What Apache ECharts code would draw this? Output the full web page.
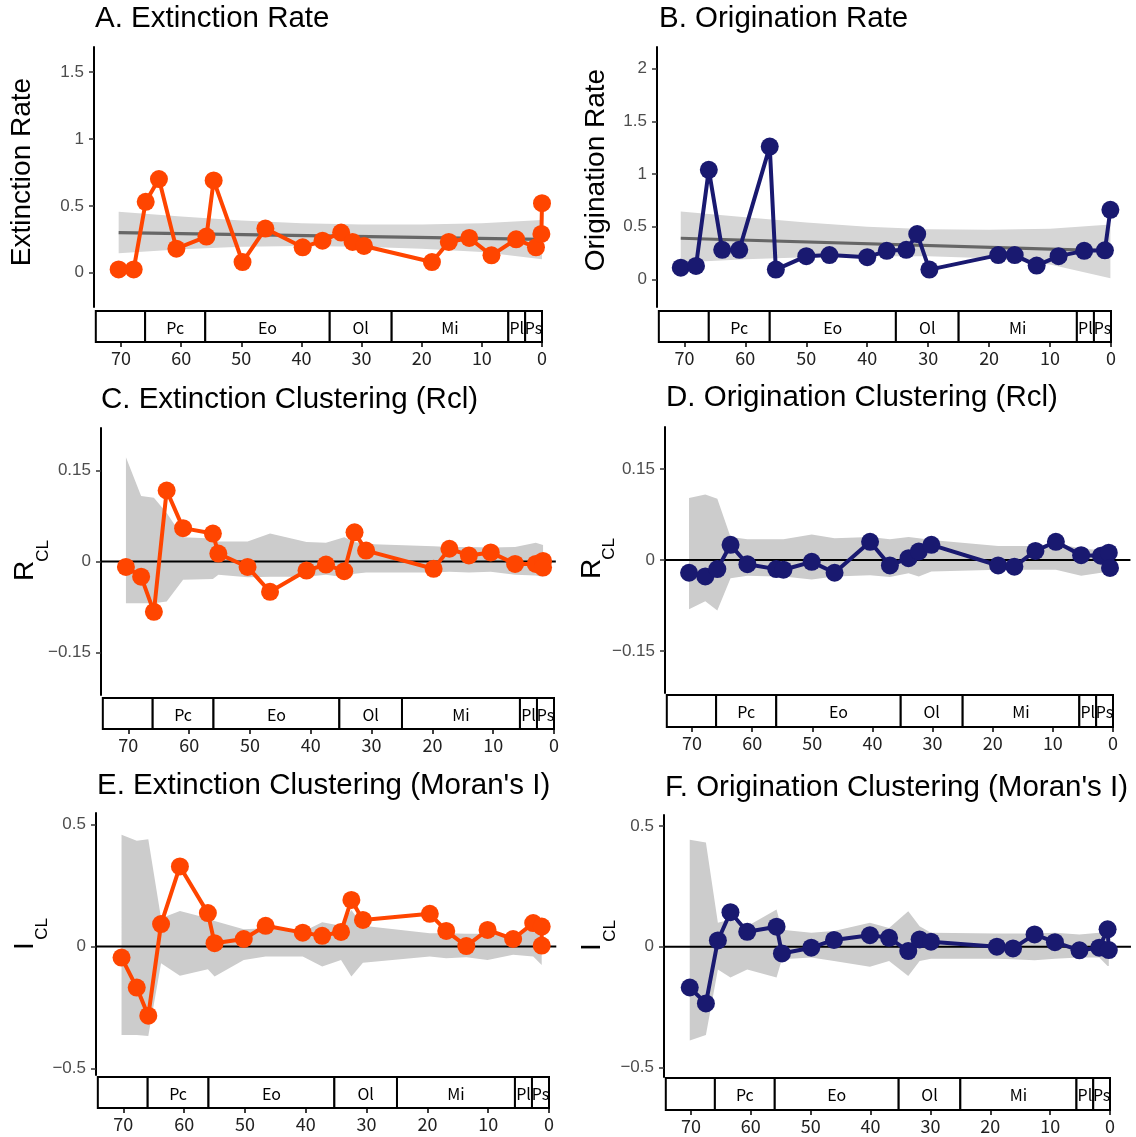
<!DOCTYPE html>
<html>
<head>
<meta charset="utf-8">
<script src="https://cdn.jsdelivr.net/npm/echarts@6/dist/echarts.min.js"></script>
<style>
  html, body { margin: 0; padding: 0; background: #ffffff; }
  #chart { width: 1136px; height: 1137px; }
</style>
</head>
<body>
<div id="chart"></div>
<script>
// ---- Geological timescale (Ma) ----
const epochBounds = [74.2, 66, 56, 35.3, 25, 5.6, 2.8, 0];
const epochNames = ['', 'Pc', 'Eo', 'Ol', 'Mi', 'Pl', 'Ps'];
const ageTicks = [70, 60, 50, 40, 30, 20, 10, 0];

// ---- Axis tick values ----
const extRateTicks = [0, 0.5, 1, 1.5];
const origRateTicks = [0, 0.5, 1, 1.5, 2];
const rclTicks = [-0.15, 0, 0.15];
const moranTicks = [-0.5, 0, 0.5];

// ---- A. Extinction rate ----
const ageExtRate = [70.4, 67.9, 65.9, 63.7, 60.8, 55.8, 54.6, 49.8, 46.0, 39.8, 36.5, 33.4, 31.5, 29.6, 18.3, 15.5, 12.1, 8.4, 4.3, 1.0, 0.1, 0.0];
const extRate = [0.025, 0.025, 0.53, 0.70, 0.18, 0.27, 0.69, 0.08, 0.33, 0.19, 0.24, 0.30, 0.23, 0.20, 0.08, 0.23, 0.26, 0.13, 0.25, 0.19, 0.29, 0.52];
const extTrendAge = [70.4, 0.0];
const extTrend = [0.30, 0.25];
const extBandAge = [70.4, 60, 50, 40, 30, 20, 10, 0];
const extBandHi = [0.455, 0.42, 0.39, 0.37, 0.36, 0.36, 0.37, 0.395];
const extBandLo = [0.145, 0.175, 0.195, 0.20, 0.195, 0.18, 0.155, 0.10];

// ---- B. Origination rate ----
const ageOrigRate = [70.6, 68.1, 66.0, 63.8, 61.0, 56.0, 55.0, 50.0, 46.2, 40.0, 36.8, 33.6, 31.8, 29.8, 18.5, 15.8, 12.2, 8.6, 4.4, 1.0, 0.1];
const origRate = [0.11, 0.127, 1.04, 0.28, 0.28, 1.26, 0.092, 0.22, 0.23, 0.21, 0.27, 0.28, 0.43, 0.092, 0.23, 0.23, 0.13, 0.22, 0.27, 0.275, 0.66];
const origTrendAge = [70.6, 0.1];
const origTrend = [0.39, 0.27];
const origBandAge = [70.6, 60, 50, 40, 30, 20, 10, 0.1];
const origBandHi = [0.645, 0.59, 0.54, 0.50, 0.475, 0.47, 0.48, 0.52];
const origBandLo = [0.16, 0.19, 0.21, 0.22, 0.22, 0.20, 0.14, 0.01];

// ---- C. Extinction clustering (Rcl) ----
const ageExtRcl = [70.4, 67.9, 65.8, 63.7, 61.0, 56.1, 55.2, 50.4, 46.7, 40.7, 37.5, 34.5, 32.8, 30.9, 19.8, 17.2, 14.0, 10.4, 6.4, 3.0, 1.8, 1.8];
const extRcl = [-0.009, -0.025, -0.083, 0.117, 0.055, 0.046, 0.013, -0.009, -0.050, -0.015, -0.005, -0.016, 0.048, 0.018, -0.012, 0.021, 0.010, 0.015, -0.004, -0.004, 0.001, -0.010];
const extRclHi = [0.172, 0.108, 0.105, 0.08, 0.040, 0.038, 0.033, 0.033, 0.046, 0.032, 0.031, 0.040, 0.032, 0.029, 0.025, 0.024, 0.024, 0.023, 0.024, 0.031, 0.027, 0.027];
const extRclLo = [-0.069, -0.069, -0.069, -0.066, -0.030, -0.029, -0.022, -0.026, -0.025, -0.025, -0.022, -0.026, -0.020, -0.018, -0.018, -0.017, -0.018, -0.017, -0.022, -0.023, -0.025, -0.025];

// ---- D. Origination clustering (Rcl) ----
const ageOrigRcl = [70.5, 67.8, 65.8, 63.6, 60.8, 56.0, 54.8, 50.1, 46.3, 40.4, 37.1, 34.0, 32.3, 30.2, 19.1, 16.4, 12.9, 9.5, 5.3, 2.0, 0.7, 0.5];
const origRcl = [-0.021, -0.027, -0.015, 0.025, -0.007, -0.015, -0.016, -0.003, -0.021, 0.030, -0.009, 0.003, 0.014, 0.025, -0.009, -0.011, 0.015, 0.030, 0.008, 0.007, 0.012, -0.013];
const origRclHi = [0.102, 0.108, 0.101, 0.038, 0.034, 0.034, 0.034, 0.042, 0.036, 0.038, 0.034, 0.038, 0.036, 0.033, 0.023, 0.023, 0.023, 0.027, 0.019, 0.016, 0.016, 0.016];
const origRclLo = [-0.081, -0.068, -0.083, -0.030, -0.026, -0.027, -0.027, -0.032, -0.027, -0.025, -0.028, -0.022, -0.027, -0.019, -0.016, -0.016, -0.016, -0.016, -0.026, -0.021, -0.019, -0.019];

// ---- E. Extinction clustering (Moran's I) ----
const ageExtMoran = [70.3, 67.8, 65.9, 63.8, 60.7, 56.1, 55.0, 50.2, 46.6, 40.5, 37.3, 34.2, 32.5, 30.6, 19.6, 16.9, 13.6, 10.1, 5.9, 2.6, 1.2, 1.2];
const extMoran = [-0.045, -0.168, -0.283, 0.092, 0.328, 0.137, 0.014, 0.031, 0.085, 0.057, 0.044, 0.060, 0.191, 0.109, 0.134, 0.064, 0.002, 0.068, 0.031, 0.096, 0.082, 0.004];
const extMoranHi = [0.458, 0.433, 0.44, 0.116, 0.146, 0.116, 0.105, 0.071, 0.075, 0.061, 0.10, 0.085, 0.15, 0.085, 0.055, 0.055, 0.052, 0.052, 0.048, 0.075, 0.061, 0.061];
const extMoranLo = [-0.362, -0.362, -0.366, -0.068, -0.12, -0.093, -0.123, -0.055, -0.041, -0.041, -0.082, -0.055, -0.123, -0.066, -0.041, -0.048, -0.044, -0.055, -0.034, -0.041, -0.075, -0.075];

// ---- F. Origination clustering (Moran's I) ----
const ageOrigMoran = [70.2, 67.5, 65.5, 63.4, 60.6, 55.7, 54.8, 49.9, 46.1, 40.1, 36.9, 33.7, 31.8, 29.9, 18.9, 16.2, 12.6, 9.2, 5.1, 1.8, 0.4, 0.2];
const origMoran = [-0.169, -0.235, 0.026, 0.143, 0.062, 0.083, -0.028, -0.004, 0.028, 0.048, 0.037, -0.018, 0.030, 0.021, 0.000, -0.007, 0.051, 0.019, -0.015, -0.004, 0.072, -0.014];
const origMoranHi = [0.443, 0.432, 0.099, 0.113, 0.085, 0.154, 0.07, 0.058, 0.065, 0.099, 0.078, 0.147, 0.085, 0.058, 0.055, 0.055, 0.055, 0.058, 0.051, 0.058, 0.065, 0.065];
const origMoranLo = [-0.389, -0.366, -0.094, -0.128, -0.094, -0.128, -0.052, -0.045, -0.059, -0.083, -0.059, -0.121, -0.059, -0.050, -0.050, -0.052, -0.056, -0.050, -0.045, -0.045, -0.080, -0.080];

// ---- Styling ----
const EXT_COLOR = '#FF4500';
const ORIG_COLOR = '#191970';
const TEXT_FONT = '"Liberation Sans", Arial, Helvetica, sans-serif';
const SCALE_FONT = '"Noto Sans CJK JP", "Noto Sans", sans-serif';
const AGE_LEFT = 74.5;   // oldest age shown at the left edge of every panel

// Panel layout: pixel geometry plus the data arrays each panel draws
const panels = [
  { title: 'A. Extinction Rate', yName: ['Extinction Rate'], color: EXT_COLOR,
    age: ageExtRate, val: extRate, ticks: extRateTicks, yMin: -0.256, yMax: 1.687,
    trend: [extTrendAge, extTrend], band: [extBandAge, extBandLo, extBandHi], bandColor: '#D6D6D6', zeroLine: false,
    axisX: 94, zeroX: 542, top: 47, bottom: 307, boxTop: 311, boxBottom: 342, pad: 3.5,
    titleXY: [95, 19], nameXY: [22, 172] },
  { title: 'B. Origination Rate', yName: ['Origination Rate'], color: ORIG_COLOR,
    age: ageOrigRate, val: origRate, ticks: origRateTicks, yMin: -0.263, yMax: 2.206,
    trend: [origTrendAge, origTrend], band: [origBandAge, origBandLo, origBandHi], bandColor: '#D6D6D6', zeroLine: false,
    axisX: 657, zeroX: 1111, top: 47, bottom: 307, boxTop: 311, boxBottom: 342, pad: 3.5,
    titleXY: [659, 19], nameXY: [596, 170] },
  { title: 'C. Extinction Clustering (Rcl)', yName: ['R', 'CL'], color: EXT_COLOR,
    age: ageExtRcl, val: extRcl, ticks: rclTicks, yMin: -0.22, yMax: 0.22,
    band: [ageExtRcl, extRclLo, extRclHi], bandColor: '#CCCCCC', zeroLine: true,
    axisX: 101, zeroX: 554, top: 428, bottom: 695, boxTop: 698, boxBottom: 729, pad: 0.3,
    titleXY: [101, 400], nameXY: [25, 571], subXY: [43, 551] },
  { title: 'D. Origination Clustering (Rcl)', yName: ['R', 'CL'], color: ORIG_COLOR,
    age: ageOrigRcl, val: origRcl, ticks: rclTicks, yMin: -0.219, yMax: 0.219,
    band: [ageOrigRcl, origRclLo, origRclHi], bandColor: '#CCCCCC', zeroLine: true,
    axisX: 665, zeroX: 1113, top: 427, bottom: 693, boxTop: 695, boxBottom: 727, pad: 2.9,
    titleXY: [666, 398], nameXY: [592, 569], subXY: [609, 549] },
  { title: "E. Extinction Clustering (Moran's I)", yName: ['I', 'CL'], color: EXT_COLOR,
    age: ageExtMoran, val: extMoran, ticks: moranTicks, yMin: -0.526, yMax: 0.547,
    band: [ageExtMoran, extMoranLo, extMoranHi], bandColor: '#CCCCCC', zeroLine: true,
    axisX: 96, zeroX: 549, top: 813, bottom: 1075, boxTop: 1077, boxBottom: 1108, pad: 1.2,
    titleXY: [97, 786], nameXY: [25, 946], subXY: [42, 929] },
  { title: "F. Origination Clustering (Moran's I)", yName: ['I', 'CL'], color: ORIG_COLOR,
    age: ageOrigMoran, val: origMoran, ticks: moranTicks, yMin: -0.54, yMax: 0.546,
    band: [ageOrigMoran, origMoranLo, origMoranHi], bandColor: '#CCCCCC', zeroLine: true,
    axisX: 664, zeroX: 1110, top: 815, bottom: 1077, boxTop: 1078, boxBottom: 1110, pad: 3.5,
    titleXY: [665, 788], nameXY: [592, 947], subXY: [610, 931] }
];

function fmtTick(v) {
  const s = String(Math.abs(v));
  return v < 0 ? '\u2212' + s : s;
}

const grids = [], xAxes = [], yAxes = [], series = [], graphics = [];

panels.forEach(function (p, i) {
  const ppu = (p.zeroX - p.axisX) / AGE_LEFT;
  const width = (AGE_LEFT + p.pad) * ppu;
  const mainIdx = 2 * i, scaleIdx = 2 * i + 1;

  // main plotting area
  grids.push({ left: p.axisX, top: p.top, width: width, height: p.bottom - p.top });
  xAxes.push({ gridIndex: mainIdx, type: 'value', min: -p.pad, max: AGE_LEFT, inverse: true, show: false });
  yAxes.push({
    gridIndex: mainIdx, type: 'value', min: p.yMin, max: p.yMax,
    axisLine: { show: true, onZero: false, lineStyle: { color: '#000', width: 2 } },
    axisTick: { show: true, length: 5, customValues: p.ticks, lineStyle: { color: '#333', width: 1.5 } },
    axisLabel: { show: true, customValues: p.ticks, formatter: fmtTick, color: '#4d4d4d',
                 fontSize: 17, fontFamily: TEXT_FONT, margin: 10 },
    splitLine: { show: false }
  });

  // timescale strip with the age axis underneath
  grids.push({ left: p.axisX, top: p.boxTop, width: width, height: p.boxBottom - p.boxTop });
  xAxes.push({
    gridIndex: scaleIdx, type: 'value', min: -p.pad, max: AGE_LEFT, inverse: true,
    axisLine: { show: false },
    axisTick: { show: true, length: 5, customValues: ageTicks, lineStyle: { color: '#000', width: 1.5 } },
    axisLabel: { show: true, customValues: ageTicks, color: '#222', fontSize: 18,
                 fontFamily: SCALE_FONT, margin: 7 },
    splitLine: { show: false }
  });
  yAxes.push({ gridIndex: scaleIdx, type: 'value', min: 0, max: 1, show: false });

  series.push({
    type: 'custom', xAxisIndex: scaleIdx, yAxisIndex: scaleIdx, silent: true,
    data: epochNames.map(function (n, k) { return [epochBounds[k], epochBounds[k + 1]]; }),
    renderItem: function (params, api) {
      const a = api.coord([api.value(0), 1]);
      const b = api.coord([api.value(1), 0]);
      const x0 = Math.min(a[0], b[0]), x1 = Math.max(a[0], b[0]);
      const y0 = Math.min(a[1], b[1]), y1 = Math.max(a[1], b[1]);
      return {
        type: 'group',
        children: [
          { type: 'rect', shape: { x: x0, y: y0, width: x1 - x0, height: y1 - y0 },
            style: { fill: '#fff', stroke: '#000', lineWidth: 2 } },
          { type: 'text',
            style: { text: epochNames[params.dataIndex], x: (x0 + x1) / 2, y: (y0 + y1) / 2 + 1,
                     textAlign: 'center', textVerticalAlign: 'middle', align: 'center', verticalAlign: 'middle',
                     fill: '#000', fontSize: 16, fontFamily: SCALE_FONT } }
        ]
      };
    }
  });

  // shaded envelope (confidence band / null-model range)
  const bAge = p.band[0], bLo = p.band[1], bHi = p.band[2];
  series.push({
    type: 'custom', xAxisIndex: mainIdx, yAxisIndex: mainIdx, silent: true, z: 1,
    data: bAge.map(function (a, k) { return [a, bLo[k], bHi[k]]; }),
    encode: { x: 0, y: [1, 2] },
    renderItem: function (params, api) {
      if (params.dataIndex !== 0) return null;
      const pts = [];
      for (let k = 0; k < bAge.length; k++) pts.push(api.coord([bAge[k], bHi[k]]));
      for (let k = bAge.length - 1; k >= 0; k--) pts.push(api.coord([bAge[k], bLo[k]]));
      return { type: 'polygon', shape: { points: pts }, style: { fill: p.bandColor } };
    }
  });

  if (p.trend) {
    series.push({
      type: 'line', xAxisIndex: mainIdx, yAxisIndex: mainIdx, z: 2, silent: true,
      data: p.trend[0].map(function (a, k) { return [a, p.trend[1][k]]; }),
      symbol: 'none', lineStyle: { color: '#666666', width: 3.2 }
    });
  }

  if (p.zeroLine) {
    series.push({
      type: 'line', xAxisIndex: mainIdx, yAxisIndex: mainIdx, z: 2, silent: true,
      data: [[AGE_LEFT, 0], [-p.pad, 0]],
      symbol: 'none', lineStyle: { color: '#000', width: 2 }
    });
  }

  series.push({
    type: 'line', xAxisIndex: mainIdx, yAxisIndex: mainIdx, z: 3,
    data: p.age.map(function (a, k) { return [a, p.val[k]]; }),
    symbol: 'circle', symbolSize: 18, showSymbol: true,
    lineStyle: { color: p.color, width: 4 },
    itemStyle: { color: p.color }
  });

  // panel title
  graphics.push({
    type: 'text', x: p.titleXY[0], y: p.titleXY[1],
    style: { text: p.title, textAlign: 'left', textVerticalAlign: 'middle', align: 'left', verticalAlign: 'middle',
             fill: '#000', fontSize: 29.5, fontFamily: TEXT_FONT }
  });
  // y-axis title (rotated), with subscript where needed
  graphics.push({
    type: 'text', x: p.nameXY[0], y: p.nameXY[1], rotation: Math.PI / 2,
    style: { text: p.yName[0], textAlign: 'center', textVerticalAlign: 'middle', align: 'center', verticalAlign: 'middle',
             fill: '#000', fontSize: 28, fontFamily: TEXT_FONT }
  });
  if (p.yName.length > 1) {
    graphics.push({
      type: 'text', x: p.subXY[0], y: p.subXY[1], rotation: Math.PI / 2,
      style: { text: p.yName[1], textAlign: 'center', textVerticalAlign: 'middle', align: 'center', verticalAlign: 'middle',
               fill: '#000', fontSize: 17, fontFamily: TEXT_FONT }
    });
  }
});

const chart = echarts.init(document.getElementById('chart'), null, { renderer: 'canvas' });
chart.setOption({
  animation: false,
  backgroundColor: '#ffffff',
  grid: grids,
  xAxis: xAxes,
  yAxis: yAxes,
  series: series,
  graphic: graphics
});
</script>
</body>
</html>
